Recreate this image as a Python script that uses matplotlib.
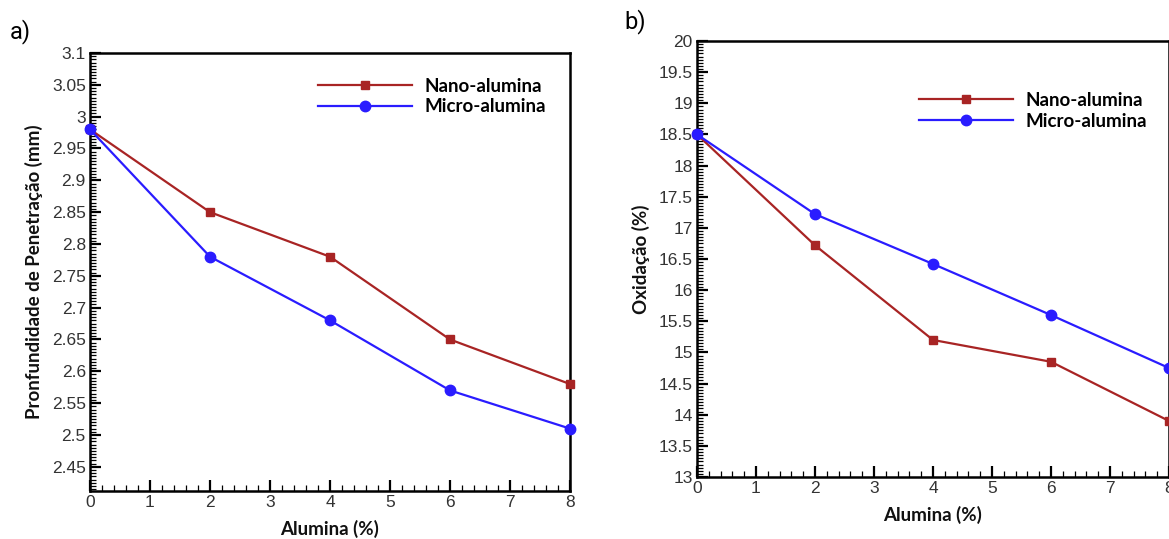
import numpy as np
import matplotlib
matplotlib.use("Agg")
import matplotlib.pyplot as plt
from matplotlib.ticker import MultipleLocator, FuncFormatter

# data
alumina = [0, 2, 4, 6, 8]

pen_nano = [2.98, 2.85, 2.78, 2.65, 2.58]
pen_micro = [2.98, 2.78, 2.68, 2.57, 2.51]

oxi_nano = [18.5, 16.72, 15.2, 14.85, 13.9]
oxi_micro = [18.5, 17.22, 16.42, 15.6, 14.75]

series_names = ["Nano-alumina", "Micro-alumina"]
red = "#a82424"
blue = "#2a1cff"

plt.rcParams['font.family'] = ['Liberation Sans', 'DejaVu Sans']

fig = plt.figure(figsize=(11.69, 5.39), dpi=100)
fig.patch.set_facecolor('white')

W, H = 1169.0, 539.0
ax1 = fig.add_axes([90 / W, 1 - 491 / H, 480 / W, 438 / H])
ax2 = fig.add_axes([697 / W, 1 - 477 / H, 472 / W, 436 / H])


def fmt(v, pos):
    s = ("%.2f" % v).rstrip('0').rstrip('.')
    return s


def style(ax, ymaj, ymin):
    for sp in ax.spines.values():
        sp.set_linewidth(1.8)
    ax.xaxis.set_major_locator(MultipleLocator(1))
    ax.xaxis.set_minor_locator(MultipleLocator(0.2))
    ax.yaxis.set_major_locator(MultipleLocator(ymaj))
    ax.yaxis.set_minor_locator(MultipleLocator(ymin))
    ax.yaxis.set_major_formatter(FuncFormatter(fmt))
    ax.tick_params(which='both', direction='in', top=False, right=False,
                   labelcolor='#333333', labelsize=12.5, pad=3)
    ax.tick_params(which='major', length=8, width=1.6)
    ax.tick_params(which='minor', length=4, width=0.9)
    ax.set_xlabel("Alumina (%)", family=['Lato', 'DejaVu Sans'],
                  fontweight='bold', fontsize=13.5, color='#111111', labelpad=7)


# a) penetration depth
ax1.plot(alumina, pen_nano, color=red, lw=1.6, marker='s', ms=5.5,
         label=series_names[0], clip_on=False, zorder=3)
ax1.plot(alumina, pen_micro, color=blue, lw=1.6, marker='o', ms=7.5,
         label=series_names[1], clip_on=False, zorder=3)
ax1.set_xlim(0, 8)
ax1.set_ylim(2.412, 3.1)
style(ax1, 0.05, 0.005)
ax1.set_ylabel("Pronfundidade de Penetração (mm)", family=['Lato', 'DejaVu Sans'],
               fontweight='bold', fontsize=13.5, color='#111111', labelpad=6)
leg1 = ax1.legend(loc='upper left', bbox_to_anchor=(0.455, 0.965), frameon=False,
                  handlelength=5.0, handletextpad=0.7, borderpad=0, labelspacing=0.2,
                  prop={'family': ['Lato', 'DejaVu Sans'], 'weight': 'bold', 'size': 13.5})

# b) oxidation
ax2.plot(alumina, oxi_nano, color=red, lw=1.6, marker='s', ms=5.5,
         label=series_names[0], clip_on=False, zorder=3)
ax2.plot(alumina, oxi_micro, color=blue, lw=1.6, marker='o', ms=7.5,
         label=series_names[1], clip_on=False, zorder=3)
ax2.set_xlim(0, 8)
ax2.set_ylim(13, 20)
style(ax2, 0.5, 0.05)
ax2.set_ylabel("Oxidação (%)", family=['Lato', 'DejaVu Sans'],
               fontweight='bold', fontsize=13.5, color='#111111', labelpad=6)
leg2 = ax2.legend(loc='upper left', bbox_to_anchor=(0.45, 0.905), frameon=False,
                  handlelength=5.0, handletextpad=0.7, borderpad=0, labelspacing=0.2,
                  prop={'family': ['Lato', 'DejaVu Sans'], 'weight': 'bold', 'size': 13.5})

fig.text(10 / W, 1 - 32 / H, "a)", fontsize=17, va='center', ha='left',
         family=['Roboto', 'DejaVu Sans'], color='black')
fig.text(624 / W, 1 - 22 / H, "b)", fontsize=17, va='center', ha='left',
         family=['Roboto', 'DejaVu Sans'], color='black')

fig.savefig("out.png", dpi=100, facecolor='white')
